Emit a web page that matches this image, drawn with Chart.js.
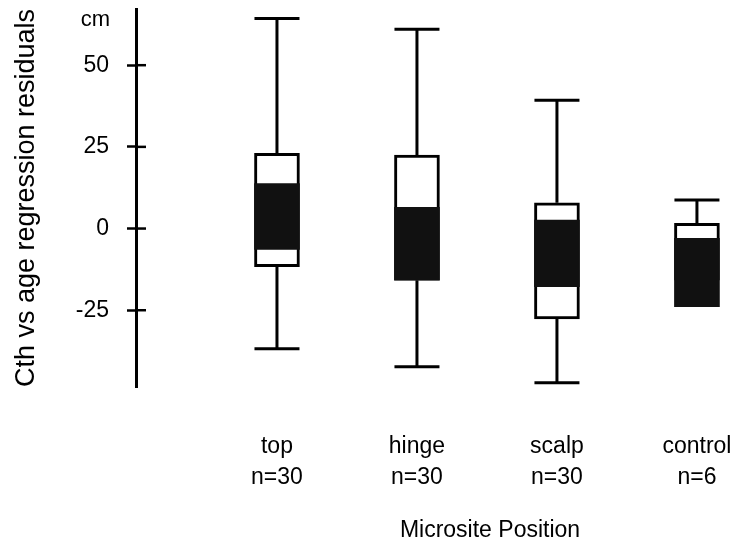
<!DOCTYPE html>
<html>
<head>
<meta charset="utf-8">
<script src="https://cdn.jsdelivr.net/npm/chart.js@4.4.1/dist/chart.umd.min.js"></script>
<style>
  html, body { margin: 0; padding: 0; background: #fff; }
  #wrap { width: 736px; height: 542px; }
</style>
</head>
<body>
<div id="wrap"><canvas id="boxChart"></canvas></div>
<script>
// values (cm)
const positions = ['top', 'hinge', 'scalp', 'control'];
const sampleSizes = [30, 30, 30, 6];
const whiskerHigh = [64.3, 61.0, 39.3, 8.7];
const boxHigh = [23.0, 22.5, 7.9, 1.6];
const shadedHigh = [13.8, 6.5, 2.6, -3.0];
const shadedLow = [-6.4, -15.8, -17.8, -23.9];
const boxLow = [-11.7, -15.8, -27.7, -15.8];
const whiskerLow = [-36.8, -42.3, -47.2, null];
const yTicks = [-25, 0, 25, 50];

const BOX_W = 45;
const INK = '#000';
const FONT = "'Liberation Sans', Arial, Helvetica, sans-serif";

// whiskers go behind the boxes; inner tick halves, unit and x title on top
const whiskerPlugin = {
  id: 'whiskers',
  beforeDatasetsDraw(chart) {
    const { ctx, scales: { x, y } } = chart;
    const half = BOX_W / 2;
    ctx.save();
    ctx.strokeStyle = INK;
    ctx.lineWidth = 3;
    positions.forEach((p, i) => {
      const px = x.getPixelForValue(i);
      [[whiskerHigh[i], boxHigh[i]], [whiskerLow[i], boxLow[i]]].forEach(([end, start]) => {
        if (end === null) return;
        const ye = y.getPixelForValue(end);
        ctx.beginPath();
        ctx.moveTo(px, y.getPixelForValue(start));
        ctx.lineTo(px, ye);
        ctx.moveTo(px - half, ye);
        ctx.lineTo(px + half, ye);
        ctx.stroke();
      });
    });
    ctx.restore();
  },
  afterDraw(chart) {
    const { ctx, scales: { y }, chartArea } = chart;
    ctx.save();
    ctx.strokeStyle = INK;
    ctx.lineWidth = 2.5;
    yTicks.forEach((v) => {
      const py = y.getPixelForValue(v);
      ctx.beginPath();
      ctx.moveTo(chartArea.left, py);
      ctx.lineTo(chartArea.left + 10, py);
      ctx.stroke();
    });
    ctx.fillStyle = INK;
    ctx.font = `22px ${FONT}`;
    ctx.textAlign = 'right';
    ctx.textBaseline = 'middle';
    ctx.fillText('cm', 110, 20);
    ctx.font = `23px ${FONT}`;
    ctx.textAlign = 'center';
    ctx.fillText('Microsite Position', 490, 531);
    ctx.restore();
  },
};

const shaded = positions.map((p, i) => ({ x: i, y: [shadedLow[i], shadedHigh[i]] }));
const boxes = positions.map((p, i) => ({ x: i, y: [boxLow[i], boxHigh[i]] }));

new Chart(document.getElementById('boxChart'), {
  type: 'bar',
  data: {
    datasets: [
      {
        data: shaded,
        backgroundColor: '#111',
        borderWidth: 0,
        barThickness: BOX_W,
        grouped: false,
      },
      {
        data: boxes,
        backgroundColor: '#fff',
        borderColor: INK,
        borderWidth: 3,
        borderSkipped: false,
        barThickness: BOX_W,
        grouped: false,
      },
    ],
  },
  options: {
    responsive: true,
    maintainAspectRatio: false,
    animation: false,
    layout: { padding: { top: 9, right: 0, bottom: 0, left: 0 } },
    plugins: { legend: { display: false }, tooltip: { enabled: false } },
    scales: {
      x: {
        type: 'linear',
        offset: false,
        min: -1.007,
        max: 3.279,
        grid: { display: false },
        border: { display: false },
        afterBuildTicks: (s) => { s.ticks = positions.map((p, i) => ({ value: i })); },
        afterFit: (s) => {
          s.height = 155;
          s.paddingLeft = 0;
          s.paddingRight = 0;
        },
        ticks: {
          color: INK,
          font: { family: FONT, size: 23, lineHeight: 1.35 },
          padding: 36,
          maxRotation: 0,
          autoSkip: false,
          callback: (v) => [positions[v], `n=${sampleSizes[v]}`],
        },
      },
      y: {
        min: -48.5,
        max: 67.2,
        afterBuildTicks: (s) => { s.ticks = yTicks.map((v) => ({ value: v })); },
        afterFit: (s) => {
          s.width = 136;
          s.paddingTop = 0;
          s.paddingBottom = 0;
        },
        grid: { drawOnChartArea: false, tickLength: 9, tickWidth: 2.5, color: INK },
        border: { display: true, color: INK, width: 3 },
        ticks: { color: INK, font: { family: FONT, size: 23 }, padding: 18 },
        title: {
          display: true,
          text: 'Cth vs age regression residuals',
          color: INK,
          font: { family: FONT, size: 27 },
          padding: { top: 10, bottom: 0 },
        },
      },
    },
  },
  plugins: [whiskerPlugin],
});
</script>
</body>
</html>
